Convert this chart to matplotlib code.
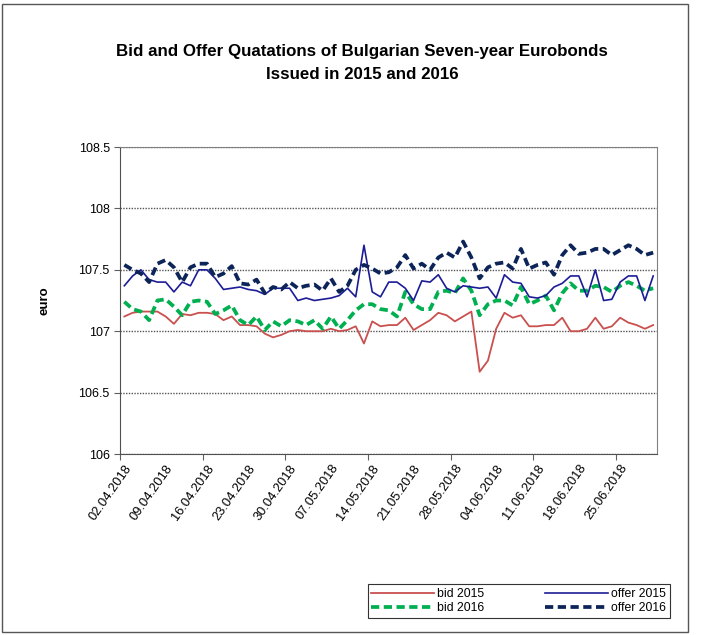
import matplotlib
matplotlib.use("Agg")
import matplotlib.pyplot as plt
from matplotlib.patches import Rectangle
import pandas as pd

plt.rcParams['font.family'] = ['Liberation Sans', 'DejaVu Sans']

# trading days 02.04.2018 - 29.06.2018
dates = pd.bdate_range("2018-04-02", "2018-06-29")
day_labels = [d.strftime("%d.%m.%Y") for d in dates]

bid_2015 = [107.12, 107.15, 107.16, 107.16, 107.16, 107.12, 107.06, 107.14, 107.13, 107.15,
            107.15, 107.14, 107.09, 107.12, 107.05, 107.05, 107.04, 106.98, 106.95, 106.97,
            107.00, 107.01, 107.00, 107.00, 107.00, 107.02, 107.00, 107.01, 107.04, 106.90,
            107.08, 107.04, 107.05, 107.05, 107.11, 107.01, 107.05, 107.09, 107.15, 107.13,
            107.08, 107.12, 107.16, 106.67, 106.76, 107.02, 107.15, 107.11, 107.13, 107.04,
            107.04, 107.05, 107.05, 107.11, 107.00, 107.00, 107.02, 107.11, 107.02, 107.04,
            107.11, 107.07, 107.05, 107.02, 107.05]

offer_2015 = [107.37, 107.45, 107.50, 107.42, 107.40, 107.40, 107.32, 107.40, 107.37, 107.50,
              107.50, 107.43, 107.34, 107.35, 107.36, 107.34, 107.33, 107.30, 107.35, 107.35,
              107.35, 107.25, 107.27, 107.25, 107.26, 107.27, 107.29, 107.35, 107.28, 107.70,
              107.32, 107.28, 107.40, 107.40, 107.35, 107.25, 107.41, 107.40, 107.46, 107.35,
              107.32, 107.37, 107.36, 107.35, 107.36, 107.27, 107.46, 107.40, 107.39, 107.28,
              107.27, 107.29, 107.36, 107.39, 107.45, 107.45, 107.28, 107.50, 107.25, 107.26,
              107.40, 107.45, 107.45, 107.25, 107.45]

bid_2016 = [107.24, 107.18, 107.16, 107.09, 107.25, 107.26, 107.20, 107.13, 107.24, 107.25,
            107.24, 107.14, 107.17, 107.21, 107.09, 107.05, 107.12, 107.01, 107.08, 107.04,
            107.09, 107.08, 107.05, 107.09, 107.02, 107.12, 107.02, 107.09, 107.17, 107.22,
            107.22, 107.18, 107.17, 107.12, 107.32, 107.22, 107.18, 107.18, 107.32, 107.33,
            107.31, 107.43, 107.33, 107.13, 107.22, 107.25, 107.25, 107.21, 107.36, 107.22,
            107.25, 107.29, 107.17, 107.31, 107.39, 107.33, 107.33, 107.37, 107.36, 107.32,
            107.37, 107.40, 107.37, 107.33, 107.35]

offer_2016 = [107.54, 107.50, 107.47, 107.40, 107.55, 107.58, 107.52, 107.40, 107.52, 107.55,
              107.55, 107.44, 107.47, 107.53, 107.39, 107.38, 107.42, 107.31, 107.36, 107.34,
              107.40, 107.35, 107.37, 107.38, 107.33, 107.43, 107.32, 107.37, 107.50, 107.54,
              107.51, 107.47, 107.48, 107.52, 107.62, 107.51, 107.55, 107.50, 107.60, 107.64,
              107.60, 107.73, 107.60, 107.43, 107.52, 107.55, 107.56, 107.51, 107.67, 107.51,
              107.54, 107.56, 107.46, 107.62, 107.70, 107.63, 107.64, 107.67, 107.67, 107.62,
              107.66, 107.70, 107.67, 107.62, 107.64]

y_ticks = [106, 106.5, 107, 107.5, 108, 108.5]

fig = plt.figure(figsize=(7.03, 6.35), dpi=100)
ax = fig.add_axes([0.171, 0.285, 0.764, 0.4835])

x = range(len(dates))
ax.plot(x, bid_2015, color="#C9504E", lw=1.3, label="bid 2015")
ax.plot(x, bid_2016, color="#00B050", lw=2.7, dashes=(2.2, 1.2), label="bid 2016")
ax.plot(x, offer_2015, color="#1C1C96", lw=1.2, label="offer 2015")
ax.plot(x, offer_2016, color="#0C2458", lw=2.7, dashes=(2.2, 1.2), label="offer 2016")

ax.set_ylim(106, 108.5)
ax.set_yticks(y_ticks)
ax.set_yticklabels(["106", "106.5", "107", "107.5", "108", "108.5"])
ax.yaxis.grid(True, color="#555555", linestyle=(0, (1, 1)), lw=1.0)
ax.set_axisbelow(True)

ax.set_xlim(-0.5, len(dates) - 0.5)
ax.set_xticks([i - 0.5 for i in range(0, len(dates), 10)])
ax.set_xticklabels([])
lab_pos = list(range(0, len(dates), 5))
ax.set_xticks(lab_pos, minor=True)
ax.set_xticklabels([day_labels[i] for i in lab_pos], minor=True, rotation=55,
                   ha="right", va="top", rotation_mode="anchor", fontsize=9.3)
ax.tick_params(axis="x", which="minor", length=0, pad=6)
ax.tick_params(axis="x", which="major", length=4, color="#606060")
ax.tick_params(axis="y", length=4, labelsize=9, color="#606060")

for s in ["top", "right"]:
    ax.spines[s].set_color("#808080")
for s in ["left", "bottom"]:
    ax.spines[s].set_color("#505050")

ax.set_ylabel("euro", fontsize=9.5, fontweight="bold", labelpad=20)

fig.text(0.515, 1 - 63 / 635, "Bid and Offer Quatations of Bulgarian Seven-year Eurobonds\nIssued in 2015 and 2016",
         ha="center", va="center", fontsize=12.2, fontweight="bold", linespacing=1.65)

leg = fig.legend(loc="center", bbox_to_anchor=(0.738, 1 - 601 / 635), ncol=2,
                 fontsize=8.8, handlelength=5.1, columnspacing=5.0, handletextpad=0.3,
                 labelspacing=0.15, borderpad=0.3, fancybox=False, framealpha=1)
leg.get_frame().set_edgecolor("#333333")
leg.get_frame().set_linewidth(0.8)

fig.patches.append(Rectangle((0.003, 0.004), 0.976, 0.99, transform=fig.transFigure,
                             fill=False, ec="#555555", lw=1.0))

fig.savefig("out.png", dpi=100)
